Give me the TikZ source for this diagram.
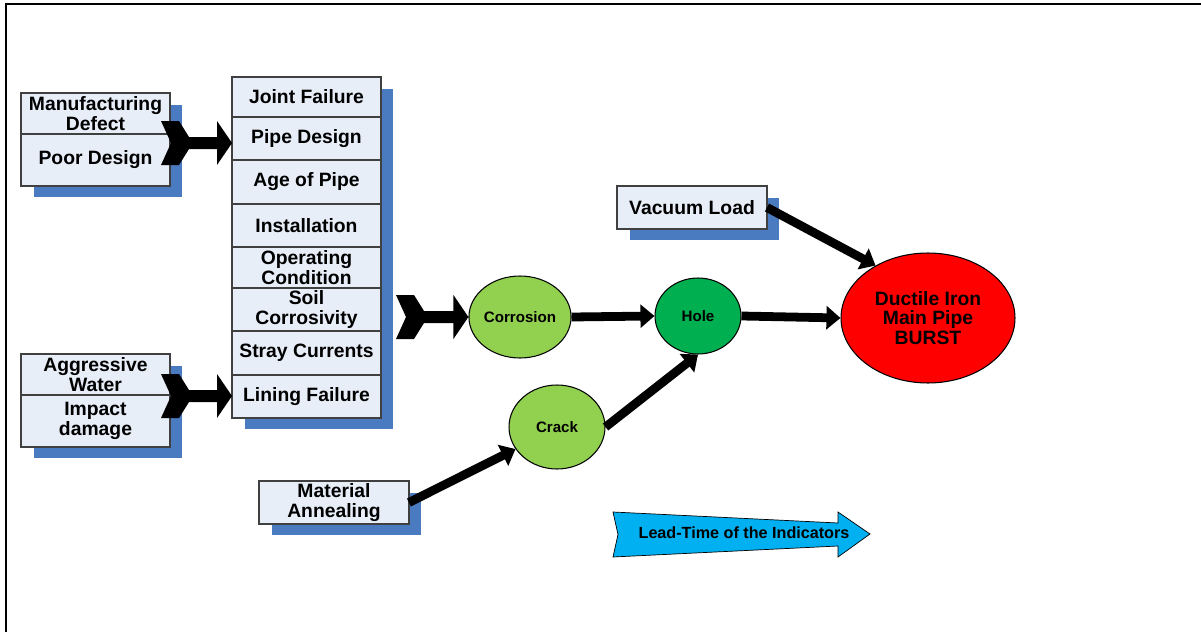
\documentclass[tikz,border=0pt]{standalone}
\usepackage{fontspec}
\setmainfont{Liberation Sans}
\usetikzlibrary{positioning,shapes.geometric,shadows,calc,arrows.meta}

\definecolor{boxfill}{HTML}{E8EEF8}
\definecolor{shadowblue}{HTML}{4A7AC0}
\definecolor{lightgreen}{HTML}{92D050}
\definecolor{darkgreen}{HTML}{00B050}
\definecolor{leadblue}{HTML}{00B0F0}

% notched block arrow from #1 (tail) to #2 (tip), both at the same height
\newcommand{\chevron}[2]{%
  \fill ($(#1)+(0,-22)$) -- ++(18,0) -- ($(#1)+(28,-6)$) -- ($(#2)+(-15,-6)$)
    -- ++(0,-16) -- (#2) -- ++(-15,22) -- ++(0,-16) -- ($(#1)+(28,6)$)
    -- ($(#1)+(18,22)$) -- ++(-18,0) -- ($(#1)+(10,0)$) -- cycle;}

\begin{document}
\begin{tikzpicture}[x=0.02cm, y=-0.02cm,
    cause/.style={draw=black!75, line width=0.7pt, fill=boxfill, outer sep=0pt,
      inner sep=1pt, align=center, minimum width=2.98cm,
      font=\bfseries\fontsize{11}{11.5}\selectfont,
      drop shadow={shadow xshift=0.25cm, shadow yshift=-0.23cm, fill=shadowblue, opacity=1}},
    stage/.style={ellipse, draw, line width=0.6pt, inner sep=0pt,
      font=\bfseries\fontsize{8.6}{10}\selectfont},
    flow/.style={line width=5pt, -{Triangle[length=8pt,width=13pt]}}]
    \useasboundingbox (0,0) rectangle (1201,632);

    % Frame
    \draw[line width=1.4pt] (6,632) -- (6,4) -- (1201,4);

    % Causes, upper group
    \node[cause, minimum height=0.82cm] (manuf) at (95.5,113.5) {Manufacturing\\Defect};
    \node[cause, minimum height=1.04cm, below=0pt of manuf] (poor) {Poor Design};

    % Causes, lower group
    \node[cause, minimum height=0.82cm] (aggr) at (95.5,374.5) {Aggressive\\Water};
    \node[cause, minimum height=1.04cm, below=0pt of aggr] (impact) {Impact\\damage};

    % Failure factors
    \node[cause, minimum height=0.80cm] (joint) at (306.5,97) {Joint Failure};
    \node[cause, minimum height=0.86cm, below=0pt of joint] (pipe) {Pipe Design};
    \node[cause, minimum height=0.88cm, below=0pt of pipe] (age) {Age of Pipe};
    \node[cause, minimum height=0.86cm, below=0pt of age] (install) {Installation};
    \node[cause, minimum height=0.82cm, below=0pt of install] (operating) {Operating\\Condition};
    \node[cause, minimum height=0.86cm, below=0pt of operating] (soil) {Soil\\Corrosivity};
    \node[cause, minimum height=0.88cm, below=0pt of soil] (stray) {Stray Currents};
    \node[cause, minimum height=0.86cm, below=0pt of stray] (lining) {Lining Failure};

    % Other indicators
    \node[cause, minimum width=3cm, minimum height=0.86cm] (vacuum) at (692,207.5) {Vacuum Load};
    \node[cause, minimum width=3cm, minimum height=0.86cm] (anneal) at (334,502.5) {Material\\Annealing};

    % Failure stages
    \node[stage, fill=lightgreen, minimum width=1.88cm, minimum height=1.64cm] (corrosion) at (520,317) {Corrosion};
    \node[stage, fill=darkgreen, minimum width=1.72cm, minimum height=1.52cm] (hole) at (698,316) {Hole};
    \node[stage, fill=lightgreen, minimum width=1.92cm, minimum height=1.68cm] (crack) at (557,427) {Crack};
    \node[stage, fill=red, minimum width=3.48cm, minimum height=2.6cm, align=center,
      font=\bfseries\fontsize{11}{11.3}\selectfont] (burst) at (928,318) {Ductile Iron\\Main Pipe\\BURST};

    % Block arrows
    \coordinate (t1) at (161,143);
    \coordinate (h1) at (joint.west |- t1);
    \chevron{t1}{h1}
    \coordinate (t2) at (161,396);
    \coordinate (h2) at (lining.west |- t2);
    \chevron{t2}{h2}
    \coordinate (t3) at (396,317);
    \coordinate (h3) at (corrosion.west |- t3);
    \chevron{t3}{h3}

    % Flow between stages
    \draw[flow] (corrosion.east) -- (hole.west);
    \draw[flow] (hole.east) -- (burst.west);
    \draw[flow] (crack.east) -- (hole.south);
    \draw[flow] (anneal.east) -- (crack.208);
    \draw[flow] (vacuum.east) -- (burst.135);

    % Lead-time arrow
    \filldraw[fill=leadblue, draw=black, line width=0.4pt] (613,512) -- (838,523) -- (838,512) -- (870,534)
      -- (838,557) -- (838,546) -- (613,557) -- (618,534.5) -- cycle;
    \node[font=\bfseries\fontsize{9.2}{10}\selectfont] (lead) at (744,533) {Lead-Time of the Indicators};
\end{tikzpicture}
\end{document}
